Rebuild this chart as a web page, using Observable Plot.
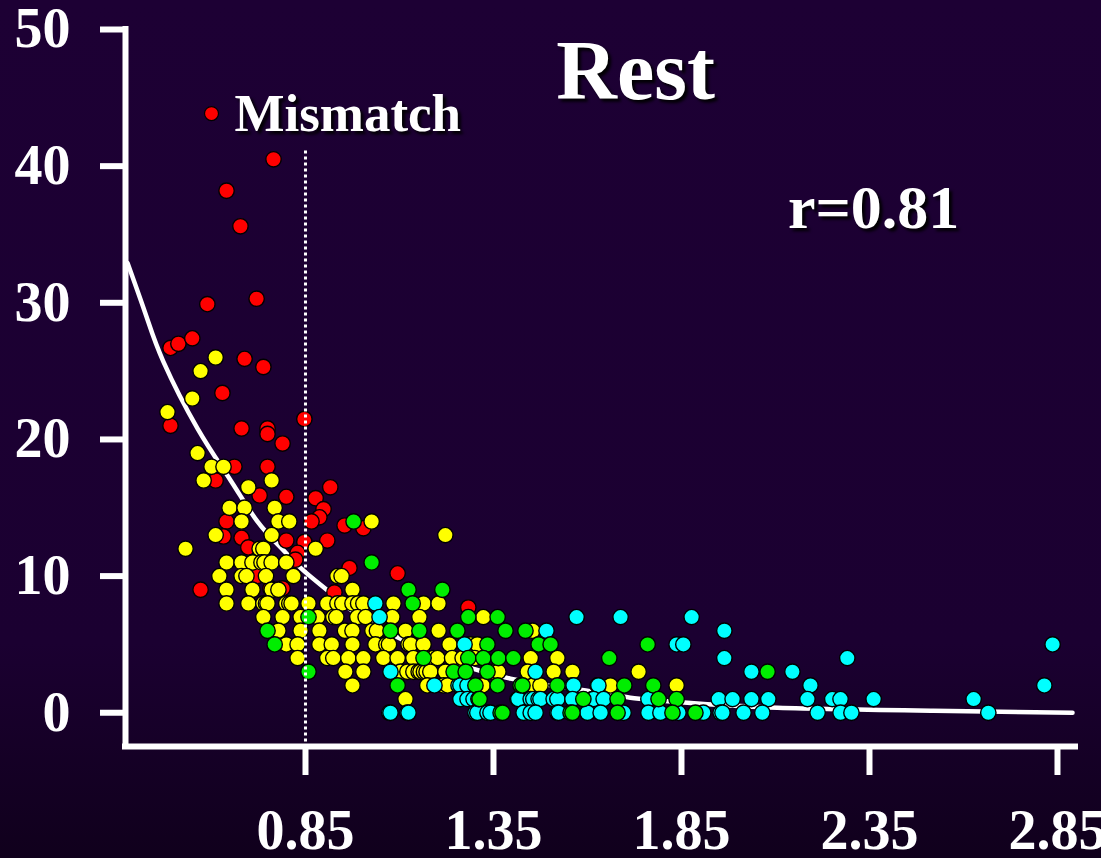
<!DOCTYPE html>
<html>
<head>
<meta charset="utf-8">
<script src="https://cdn.jsdelivr.net/npm/d3@7"></script>
<script src="https://cdn.jsdelivr.net/npm/@observablehq/plot@0.6"></script>
<style>
  html, body { margin: 0; padding: 0; }
  body {
    width: 1101px; height: 858px; overflow: hidden;
    background: linear-gradient(to bottom, #1d0034 0%, #1b0031 75%, #10001c 100%);
  }
  #chart svg { display: block; }
  #chart g[aria-label="text"] text { filter: drop-shadow(3px 3px 1.5px rgba(0,0,0,0.95)); }
</style>
</head>
<body>
<div id="chart"></div>
<script>
// ---- data ----
const xTicks = [0.85, 1.35, 1.85, 2.35, 2.85];
const yTicks = [0, 10, 20, 30, 40, 50];
const xDomain = [0.3713, 2.8979];
const yDomain = [-2.47, 50];

// Mismatch (red) points [x, y]
const redPts = [
  [0.765,40.5],[0.640,38.2],[0.677,35.6],[0.720,30.3],[0.589,29.9],[0.491,26.7],[0.512,27.0],
  [0.549,27.4],[0.688,25.9],[0.738,25.3],[0.629,23.4],[0.491,21.0],[0.680,20.8],[0.749,20.8],
  [0.749,20.4],[0.789,19.7],[0.847,21.5],[0.661,18.0],[0.749,18.0],[0.611,17.0],[0.728,15.9],
  [0.799,15.8],[0.916,16.5],[0.877,15.7],[0.898,14.9],[0.887,14.3],[0.866,14.0],[0.640,14.0],
  [0.632,12.9],[0.680,12.8],[0.698,12.1],[0.799,12.6],[0.847,12.5],[0.908,12.6],[0.829,11.7],
  [0.823,11.2],[0.722,10.0],[0.571,9.0],[0.757,9.1],[0.789,9.1],[0.927,8.8],[0.954,13.7],
  [1.004,13.5],[0.967,10.6],[1.095,10.2],[1.283,7.7]
];

// yellow points [x, y]
const yellowPts = [
  [0.611,26],[0.571,25],[0.549,23],[0.483,22],[0.563,19],[0.600,18],[0.632,18],[0.579,17],
  [0.698,16.5],[0.760,17],[0.648,15],[0.688,15],[0.768,15],[0.680,14],[0.778,14],[0.807,14],
  [1.026,14],[0.611,13],[0.760,13],[1.222,13],
  [0.531,12],[0.728,12],[0.738,12],[0.877,12],
  [0.640,11],[0.680,11],[0.709,11],[0.733,11],[0.741,11],[0.760,11],[0.799,11],
  [0.621,10],[0.680,10],[0.693,10],[0.745,10],[0.818,10],[0.935,10],[0.946,10],
  [0.640,9],[0.709,9],[0.760,9],[0.778,9],[0.975,9],
  [0.640,8],[0.698,8],[0.738,8],[0.745,8],[0.749,8],[0.799,8],[0.807,8],[0.813,8],[0.858,8],
  [0.908,8],[0.935,8],[0.948,8],[0.975,8],[0.990,8],[1.004,8],[1.084,8],[1.164,8],[1.204,8],
  [0.738,7],[0.789,7],[0.837,7],[0.882,7],[0.924,7],[0.932,7],[0.988,7],[1.010,7],[1.081,7],
  [1.153,7],[1.323,7],
  [0.778,6],[0.837,6],[0.887,6],[0.955,6],[0.975,6],[1.028,6],[1.040,6],[1.116,6],[1.204,6],[1.454,6],
  [0.799,5],[0.829,5],[0.887,5],[0.920,5],[0.975,5],[1.036,5],[1.065,5],[1.072,5],[1.124,5],
  [1.130,5],[1.164,5],[1.233,5],[1.289,5],[1.307,5],
  [0.829,4],[0.908,4],[0.924,4],[0.964,4],[1.004,4],[1.057,4],[1.095,4],[1.137,4],[1.185,4],
  [1.190,4],[1.201,4],[1.240,4],[1.268,4],[1.300,4],[1.449,4],[1.520,4],
  [0.956,3],[1.004,3],[1.103,3],[1.121,3],[1.137,3],[1.151,3],[1.156,3],[1.165,3],[1.172,3],
  [1.182,3],[1.222,3],[1.350,3],[1.363,3],[1.441,3],[1.510,3],[1.560,3],[1.736,3],
  [0.975,2],[1.174,2],[1.217,2],[1.228,2],[1.321,2],[1.456,2],[1.475,2],[1.661,2],[1.837,2],
  [1.116,1],[1.613,1]
];

// cyan points [x, y]
const cyanPts = [
  [1.036,8],[1.047,7],[1.571,7],[1.688,7],[1.877,7],[1.491,6],[1.964,6],
  [1.273,5],[1.837,5],[1.855,5],[2.837,5],[1.964,4],[2.291,4],
  [1.076,3],[1.462,3],[2.036,3],[2.145,3],
  [1.193,2],[1.257,2],[1.262,2],[1.281,2],[1.560,2],[1.563,2],[1.627,2],[1.629,2],[2.193,2],[2.815,2],
  [1.262,1],[1.281,1],[1.297,1],[1.414,1],[1.416,1],[1.449,1],[1.456,1],[1.470,1],[1.475,1],
  [1.510,1],[1.520,1],[1.560,1],[1.616,1],[1.643,1],[1.762,1],[1.949,1],[1.986,1],[2.036,1],
  [2.081,1],[2.185,1],[2.251,1],[2.273,1],[2.361,1],[2.627,1],
  [1.073,0],[1.076,0],[1.121,0],[1.124,0],[1.302,0],[1.307,0],[1.334,0],[1.342,0],[1.430,0],
  [1.449,0],[1.462,0],[1.520,0],[1.523,0],[1.600,0],[1.635,0],[1.696,0],[1.762,0],[1.794,0],
  [1.842,0],[1.908,0],[1.954,0],[1.959,0],[2.015,0],[2.065,0],[2.212,0],[2.273,0],[2.302,0],[2.666,0]
];

// green points [x, y]
const greenPts = [
  [0.978,14],[1.026,11],[1.124,9],[1.214,9],[1.135,8],[0.858,7],[1.283,7],[1.361,7],
  [0.749,6],[1.076,6],[1.153,6],[1.254,6],[1.382,6],[1.435,6],
  [0.768,5],[1.334,5],[1.470,5],[1.502,5],[1.760,5],
  [1.164,4],[1.283,4],[1.323,4],[1.363,4],[1.403,4],[1.658,4],
  [0.858,3],[1.244,3],[1.276,3],[1.334,3],[2.079,3],
  [1.095,2],[1.302,2],[1.361,2],[1.422,2],[1.427,2],[1.520,2],[1.698,2],[1.775,2],
  [1.310,1],[1.313,1],[1.589,1],[1.680,1],[1.789,1],[1.837,1],
  [1.369,0],[1.374,0],[1.555,0],[1.560,0],[1.680,0],[1.826,0],[1.887,0]
];

// fitted curve
const curveX = [0.377, 0.427, 0.472, 0.563, 0.651, 0.722, 0.784, 0.845, 0.924, 1.015, 1.200, 1.395, 1.603, 1.714, 1.866, 2.105, 2.520, 2.890];
const curveY = [32.9, 29.0, 25.7, 20.8, 17.0, 14.0, 12.1, 10.4, 8.6, 6.7, 4.2, 2.5, 1.6, 1.1, 0.73, 0.37, 0.15, 0.0];

// threshold line
const thresholdX = 0.85;
const thresholdTop = 41.1;

// annotations
const titleText = "Rest";
const titleAt = [1.728, 46.9];
const rText = "r=0.81";
const rAt = [2.361, 36.9];
const legendText = "Mismatch";
const legendDotAt = [0.600, 43.85];
const legendTextAt = [0.661, 43.85];

// ---- build ----
const toObj = (pts) => pts.map(([x, y]) => ({x, y}));
const curve = curveX.map((x, i) => ({x, y: curveY[i]}));
const serif = "'Liberation Serif', 'Times New Roman', Times, serif";

const dotOpts = (fill) => ({x: "x", y: "y", r: 7.7, fill, stroke: "black", strokeWidth: 1.4});

const chart = Plot.plot({
  width: 1101,
  height: 858,
  marginLeft: 125,
  marginRight: 26,
  marginTop: 29,
  marginBottom: 112,
  x: {domain: xDomain},
  y: {domain: yDomain},
  style: {background: "transparent", color: "white", fontFamily: serif, overflow: "visible"},
  marks: [
    Plot.line(curve, {x: "x", y: "y", stroke: "white", strokeWidth: 4.5, curve: "natural"}),
    Plot.dot(toObj(redPts), dotOpts("#ff0000")),
    Plot.dot(toObj(yellowPts), dotOpts("#ffff00")),
    Plot.dot(toObj(cyanPts), dotOpts("#00ffff")),
    Plot.dot(toObj(greenPts), dotOpts("#00ee00")),
    Plot.ruleX([thresholdX], {y1: thresholdTop, y2: yDomain[0], stroke: "white", strokeWidth: 3, strokeDasharray: "3,3"}),
    Plot.ruleX([xDomain[0]], {stroke: "white", strokeWidth: 6, strokeLinecap: "square"}),
    Plot.ruleY([yDomain[0]], {stroke: "white", strokeWidth: 6, strokeLinecap: "square"}),
    Plot.axisY(yTicks, {anchor: "left", tickSize: 25, tickPadding: 30, strokeWidth: 6, color: "white",
      fontSize: 56, fontWeight: "bold", fontFamily: serif, label: null}),
    Plot.axisX(xTicks, {anchor: "bottom", tickSize: 29, tickPadding: 34, strokeWidth: 6, color: "white",
      fontSize: 56, fontWeight: "bold", fontFamily: serif, label: null, tickFormat: (d) => d.toFixed(2)}),
    Plot.dot([{x: legendDotAt[0], y: legendDotAt[1]}], {x: "x", y: "y", r: 7, fill: "#ff0000", stroke: "black", strokeWidth: 1.2}),
    Plot.text([legendText], {x: legendTextAt[0], y: legendTextAt[1], text: (d) => d, textAnchor: "start",
      fontSize: 53, fontWeight: "bold", fontFamily: serif, fill: "white"}),
    Plot.text([titleText], {x: titleAt[0], y: titleAt[1], text: (d) => d, textAnchor: "middle",
      fontSize: 84, fontWeight: "bold", fontFamily: serif, fill: "white"}),
    Plot.text([rText], {x: rAt[0], y: rAt[1], text: (d) => d, textAnchor: "middle",
      fontSize: 62, fontWeight: "bold", fontFamily: serif, fill: "white"})
  ]
});
document.getElementById("chart").appendChild(chart);
</script>
</body>
</html>
